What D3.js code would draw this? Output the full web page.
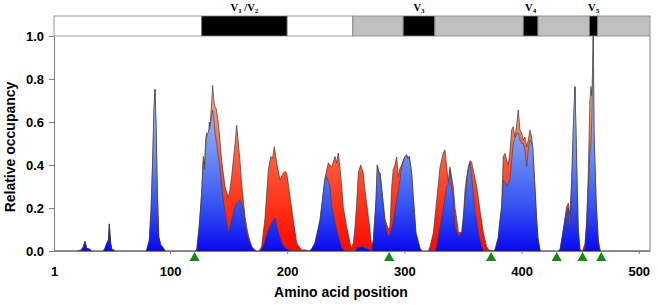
<!DOCTYPE html>
<html>
<head>
<meta charset="utf-8">
<script src="https://cdn.jsdelivr.net/npm/d3@7"></script>
<style>
  html, body { margin: 0; padding: 0; background: #fff; }
  svg { display: block; font-family: Arial, "Liberation Sans", sans-serif; }
</style>
</head>
<body>
<div id="chart"></div>
<script>
/* Relative occupancy along gp120: red = total, blue = the part in front.
   Domain bar on top (constant / variable loops / core), green marks under the axis. */

var xTicks = [1, 100, 200, 300, 400, 500];
var yTicks = [0, 0.2, 0.4, 0.6, 0.8, 1.0];

// domain bar along the top
var segStart = [1, 127, 200, 256, 299, 326, 401.5, 414, 458, 465];
var segEnd   = [127, 200, 256, 299, 326, 401.5, 414, 458, 465, 509.6];
var segKind  = ["plain", "loop", "plain", "core", "loop", "core", "loop", "core", "loop", "core"];
var loopLabels = ["V1 /V2", "V3", "V4", "V5"];

var markSites = [121, 287, 374, 430, 452, 468];

// [amino acid position, relative occupancy]
var totalOcc = [
  [1, 0], [20, 0], [24, 0.005], [25.9, 0.02], [27.5, 0.045], [28.9, 0.013], [31.7, 0.008], [33, 0],
  [43, 0], [44.5, 0.013], [46, 0.036], [47.4, 0.051], [48.2, 0.126], [49.4, 0.036], [50.5, 0.005], [52, 0.006], [53, 0],
  [79, 0], [80.1, 0.005], [82.3, 0.05], [83.8, 0.19], [85.2, 0.42], [86.3, 0.656], [87.2, 0.752], [88.1, 0.578],
  [89.2, 0.27], [90.4, 0.067], [92.1, 0.028], [94.3, 0.014], [96, 0],
  [121, 0], [122.8, 0.005], [125, 0.12], [127, 0.27], [128.4, 0.44], [129.5, 0.40], [130.5, 0.52], [131.3, 0.55],
  [132.5, 0.50], [133.5, 0.60], [134.1, 0.58], [135.2, 0.66], [136.4, 0.77], [137.4, 0.70], [138.4, 0.67],
  [139.5, 0.66], [141.2, 0.595], [142.5, 0.52], [144.1, 0.42], [145.5, 0.36], [146.9, 0.30], [149.7, 0.25],
  [151, 0.28], [152.6, 0.345], [154, 0.42], [155.5, 0.50], [156.9, 0.585], [158, 0.52], [159.7, 0.42],
  [161, 0.32], [162.5, 0.237], [164, 0.16], [165.4, 0.113], [167, 0.07], [169.7, 0.02], [172, 0.005], [174, 0],
  [176, 0], [178.2, 0.02], [181, 0.15], [183.9, 0.377], [186, 0.44], [187.5, 0.43], [189, 0.485], [190, 0.45],
  [191, 0.41], [193.9, 0.33], [195.5, 0.35], [196.7, 0.363], [198, 0.37], [199.6, 0.363], [202.4, 0.253],
  [205.2, 0.144], [208.1, 0.037], [210.9, 0.014], [213, 0.005], [216, 0.005], [219, 0],
  [221, 0.01], [223.7, 0.037], [228, 0.144], [232.2, 0.34], [235.1, 0.41], [238, 0.39], [240.8, 0.44],
  [242.2, 0.41], [243.6, 0.456], [245, 0.39], [246.5, 0.30], [247.8, 0.206], [250.7, 0.113], [253.6, 0.037],
  [255, 0.014], [256.5, 0.04], [258, 0.12], [259.3, 0.223], [260.7, 0.363], [262.7, 0.40], [264.9, 0.363],
  [266, 0.30], [267.8, 0.223], [270.6, 0.098], [272.1, 0.02], [273.5, 0.051], [275.8, 0.237], [276.9, 0.40],
  [278, 0.37], [279.5, 0.36], [281.5, 0.25], [283.4, 0.15], [286.3, 0.10], [287.7, 0.113], [289.2, 0.30],
  [290.5, 0.38], [292, 0.40], [293.4, 0.437], [294.8, 0.346], [296, 0.38], [297.7, 0.40], [299.1, 0.423],
  [300.5, 0.44], [302, 0.447], [303, 0.43], [304.2, 0.44], [306.2, 0.363], [307.6, 0.25], [309.9, 0.084],
  [313.3, 0.013], [315, 0],
  [320.5, 0], [321.9, 0.02], [324.7, 0.084], [327.6, 0.237], [330.4, 0.39], [333.2, 0.456], [334.6, 0.47],
  [336.1, 0.39], [337.5, 0.32], [338.9, 0.39], [340.3, 0.345], [341.7, 0.30], [343.2, 0.2], [344.6, 0.15],
  [346, 0.09], [348.9, 0.084], [350.3, 0.15], [351.7, 0.28], [353.2, 0.346], [354.5, 0.39], [356, 0.42],
  [357.4, 0.414], [358.8, 0.376], [361.7, 0.30], [364.5, 0.19], [367.4, 0.084], [370.2, 0.02], [372, 0.005], [376, 0],
  [377.3, 0.005], [380, 0.06], [381.6, 0.144], [383, 0.206], [383.8, 0.35], [384.4, 0.44], [385.8, 0.454],
  [387.3, 0.423], [388.6, 0.40], [390.1, 0.46], [391.5, 0.563], [392.9, 0.578], [394.3, 0.53], [395.7, 0.58],
  [397.2, 0.656], [398.6, 0.563], [400.1, 0.549], [401.4, 0.516], [402.9, 0.53], [404.3, 0.485], [405.7, 0.516],
  [407.2, 0.563], [408.6, 0.53], [409.5, 0.485], [411.4, 0.30], [412.9, 0.144], [414, 0.06], [415.7, 0.005], [417, 0],
  [431, 0], [432.8, 0.005], [435.6, 0.098], [438.5, 0.206], [439.9, 0.222], [440.7, 0.19], [441.3, 0.17],
  [442.8, 0.33], [444.1, 0.563], [445.6, 0.764], [447, 0.41], [448.4, 0.098], [449.9, 0.005], [452, 0],
  [454.1, 0.035], [455.5, 0.13], [456.9, 0.35], [458.3, 0.70], [459.2, 0.765], [460, 0.72], [460.6, 0.85],
  [461.2, 1.0], [461.8, 0.56], [463.5, 0.25], [465.4, 0.05], [466.9, 0.005], [468, 0], [509.6, 0]
];

var frontOcc = [
  [1, 0], [24, 0], [25.9, 0.015], [27.5, 0.045], [28.9, 0.013], [31.7, 0.008], [33, 0],
  [43, 0], [44.5, 0.013], [46, 0.036], [47.4, 0.051], [48.2, 0.126], [49.4, 0.036], [50.5, 0.005], [52, 0.006], [53, 0],
  [79, 0], [80.1, 0.005], [82.3, 0.05], [83.8, 0.19], [85.2, 0.42], [86.3, 0.656], [87.2, 0.752], [88.1, 0.578],
  [89.2, 0.27], [90.4, 0.067], [92.1, 0.028], [94.3, 0.014], [96, 0],
  [121, 0], [122.8, 0.005], [125, 0.12], [127, 0.27], [128.4, 0.42], [129.5, 0.38], [130.5, 0.50], [131.3, 0.53],
  [133, 0.56], [134.1, 0.57], [135.2, 0.62], [136.4, 0.655], [137.5, 0.60], [138.4, 0.55], [139.8, 0.50],
  [141.2, 0.44], [142.7, 0.377], [144, 0.31], [145.5, 0.237], [147, 0.18], [148.4, 0.13], [149.7, 0.084],
  [151, 0.11], [152.6, 0.144], [154.5, 0.19], [156.9, 0.223], [159.7, 0.237], [161, 0.22], [162.5, 0.19],
  [164, 0.13], [165.4, 0.084], [167.5, 0.045], [169.7, 0.02], [172, 0.005], [174, 0],
  [177, 0], [179.6, 0.02], [183.9, 0.098], [186.8, 0.13], [189.6, 0.153], [191.9, 0.098], [195.3, 0.037],
  [198.1, 0.014], [201, 0.005], [204, 0],
  [219, 0], [221, 0.01], [223.7, 0.037], [228, 0.144], [232.2, 0.33], [233.7, 0.346], [236.5, 0.30], [238, 0.206],
  [240.8, 0.13], [243.6, 0.067], [246.5, 0.014], [249, 0],
  [258, 0], [260, 0.015], [264, 0.02], [268, 0.01], [272, 0],
  [273.5, 0.051], [275.8, 0.237], [276.9, 0.40], [279.2, 0.346], [281.5, 0.237], [283.4, 0.13], [285, 0.09],
  [286.3, 0.067], [287.7, 0.08], [290.5, 0.13], [293.4, 0.237], [295.5, 0.30], [297.7, 0.39], [300.5, 0.44],
  [302, 0.447], [303, 0.43], [304.2, 0.44], [306.2, 0.363], [307.6, 0.25], [309.9, 0.084], [313.3, 0.013], [315, 0],
  [326.1, 0], [327.6, 0.02], [330.4, 0.113], [333.2, 0.2], [336.1, 0.30], [337.5, 0.31], [338.9, 0.38],
  [340.3, 0.30], [341.7, 0.25], [343.2, 0.113], [346, 0.067], [348.9, 0.084], [351.7, 0.237], [354.5, 0.376],
  [356, 0.41], [357.4, 0.346], [360.2, 0.19], [363.1, 0.084], [365.9, 0.02], [367.5, 0],
  [376, 0], [377.3, 0.005], [380, 0.06], [381.6, 0.144], [383, 0.206], [384.4, 0.33], [385.8, 0.32],
  [387.3, 0.30], [388.6, 0.315], [390.1, 0.33], [391.5, 0.42], [392.9, 0.50], [395.7, 0.547], [397.2, 0.55],
  [398.6, 0.516], [400.1, 0.50], [401.4, 0.50], [402.9, 0.47], [404.3, 0.392], [405.7, 0.47], [407.2, 0.516],
  [408.6, 0.50], [409.5, 0.485], [411.4, 0.30], [412.9, 0.144], [414, 0.06], [415.7, 0.005], [417, 0],
  [431, 0], [432.8, 0.005], [435.6, 0.098], [438.5, 0.19], [439.9, 0.20], [440.7, 0.10], [441.3, 0.10],
  [442.8, 0.33], [444.1, 0.563], [445.6, 0.764], [447, 0.41], [448.4, 0.098], [449.9, 0.005], [452, 0],
  [454.1, 0.01], [455.5, 0.125], [456.9, 0.30], [458.3, 0.45], [459.2, 0.50], [460, 0.62], [460.6, 0.80],
  [461.2, 1.0], [461.8, 0.56], [463.5, 0.25], [465.4, 0.05], [466.9, 0.005], [468, 0], [509.6, 0]
];

(function () {
  "use strict";
  var W = 658, H = 305;
  var left = 54, right = 650, top = 36, bottom = 251;
  var axisGrey = "#808080";

  var svg = d3.select("#chart").append("svg").attr("width", W).attr("height", H);
  svg.append("rect").attr("width", W).attr("height", H).attr("fill", "#fff");

  var x = d3.scaleLinear().domain([1, 509.6]).range([left, right]);
  var y = d3.scaleLinear().domain([0, 1]).range([bottom, top]);

  // ---- gradients (light at the top of the plot, saturated at zero) ----
  var defs = svg.append("defs");
  function grad(id, stops) {
    var g = defs.append("linearGradient").attr("id", id).attr("gradientUnits", "userSpaceOnUse")
      .attr("x1", 0).attr("x2", 0).attr("y1", y(1)).attr("y2", y(0));
    stops.forEach(function (s) { g.append("stop").attr("offset", s[0]).attr("stop-color", s[1]); });
  }
  grad("gRed", [[0, "#ffd8c8"], [0.3, "#f5a080"], [0.55, "#ff6040"], [0.8, "#ff3018"], [1, "#ff0800"]]);
  grad("gBlue", [[0, "#e6ecfa"], [0.3, "#a9bdf2"], [0.55, "#6f8ef0"], [0.8, "#3350f2"], [1, "#0808f0"]]);

  // ---- occupancy areas ----
  var area = d3.area().x(function (d) { return x(d[0]); }).y0(y(0)).y1(function (d) { return y(d[1]); });
  var line = d3.line().x(function (d) { return x(d[0]); }).y(function (d) { return y(d[1]); });

  svg.append("path").datum(totalOcc).attr("d", area).attr("fill", "url(#gRed)");
  svg.append("path").datum(totalOcc).attr("d", line).attr("fill", "none")
    .attr("stroke", "#3a3a3a").attr("stroke-width", 0.7);
  svg.append("path").datum(frontOcc).attr("d", area).attr("fill", "url(#gBlue)");
  svg.append("path").datum(frontOcc).attr("d", line).attr("fill", "none")
    .attr("stroke", "#3a3a3a").attr("stroke-width", 0.6);

  // ---- axes ----
  var yAxis = svg.append("g").attr("transform", "translate(" + left + ",0)")
    .call(d3.axisLeft(y).tickValues(yTicks).tickFormat(d3.format(".1f")).tickSize(5).tickPadding(5).tickSizeOuter(0));
  var xAxis = svg.append("g").attr("transform", "translate(0," + bottom + ")")
    .call(d3.axisBottom(x).tickValues(xTicks).tickFormat(d3.format("d")).tickSize(3).tickPadding(13).tickSizeOuter(0));
  [yAxis, xAxis].forEach(function (a) {
    a.select(".domain").attr("stroke", axisGrey);
    a.selectAll(".tick line").attr("stroke", axisGrey);
    a.selectAll(".tick text").attr("fill", "#000").attr("font-size", 13).attr("font-weight", "bold")
      .attr("font-family", "Arial, 'Liberation Sans', sans-serif");
  });
  xAxis.selectAll(".tick").filter(function (d) { return d === 1; }).select("line").remove();

  // right frame edge
  svg.append("line").attr("x1", right).attr("x2", right).attr("y1", top).attr("y2", bottom)
    .attr("stroke", axisGrey).attr("stroke-width", 1);

  // ---- domain bar ----
  var barTop = 16;
  var fills = { plain: "#fff", loop: "#000", core: "#c0c0c0" };
  svg.append("g").selectAll("rect").data(segStart).enter().append("rect")
    .attr("x", function (d) { return x(d); })
    .attr("width", function (d, i) { return x(segEnd[i]) - x(d); })
    .attr("y", barTop).attr("height", top - barTop)
    .attr("fill", function (d, i) { return fills[segKind[i]]; })
    .attr("stroke", axisGrey).attr("stroke-width", 0.8);

  var loops = [];
  segKind.forEach(function (k, i) { if (k === "loop") loops.push((segStart[i] + segEnd[i]) / 2); });
  loops.forEach(function (c, i) {
    var t = svg.append("text").attr("x", x(c)).attr("y", 12.5).attr("text-anchor", "middle")
      .attr("font-family", "'Liberation Serif', 'Times New Roman', serif").attr("font-weight", "bold")
      .attr("font-size", 10.5).attr("fill", "#000").style("white-space", "pre");
    // digits become subscripts
    loopLabels[i].match(/\d+|\D+/g).forEach(function (part) {
      if (/\d/.test(part)) {
        t.append("tspan").attr("font-size", 7).attr("dy", 1.5).text(part);
      } else {
        t.append("tspan").attr("dy", t.selectAll("tspan").size() ? -1.5 : 0).text(part);
      }
    });
  });

  // ---- green markers under the axis ----
  svg.append("g").selectAll("path").data(markSites).enter().append("path")
    .attr("d", d3.symbol().type(d3.symbolTriangle).size(45))
    .attr("transform", function (d) { return "translate(" + x(d) + ",258)"; })
    .attr("fill", "#138a13");

  // ---- axis titles ----
  svg.append("text").attr("x", 341).attr("y", 297).attr("text-anchor", "middle")
    .attr("font-size", 14).attr("font-weight", "bold").text("Amino acid position");
  svg.append("text").attr("transform", "translate(15,147) rotate(-90)").attr("text-anchor", "middle")
    .attr("font-size", 14).attr("font-weight", "bold").text("Relative occupancy");
})();
</script>
</body>
</html>
